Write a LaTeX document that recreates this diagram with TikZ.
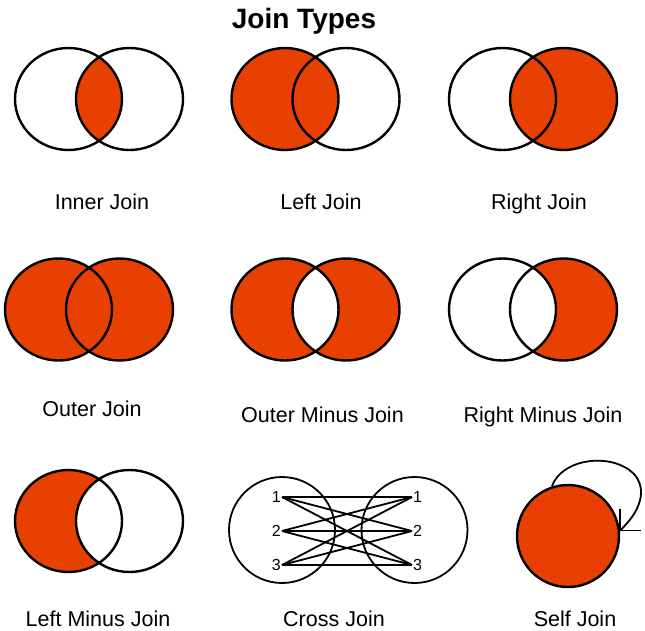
\documentclass[tikz,border=0pt]{standalone}
\usepackage{fontspec}
\setmainfont{Liberation Sans}
\usetikzlibrary{arrows.meta}
\definecolor{joinred}{RGB}{232,64,0}

\begin{document}
\begin{tikzpicture}[
    x=1pt, y=-1pt,
    setline/.style={line width=2.4pt, draw=black},
    setfill/.style={fill=joinred},
    setsize/.style={x radius=53.5, y radius=51},
    caption/.style={anchor=base, font=\fontsize{21.5}{24}\selectfont},
    crossline/.style={line width=1.8pt},
    digit/.style={font=\fontsize{16}{17}\selectfont, inner sep=1pt},
]

%--- Coordinates (y grows downward) ---
\def\dx{30.5}       % half distance between the two set centres
\def\rowI{99}       % centre height, first row
\def\rowII{309.5}   % centre height, second row
\def\rowIII{521}    % centre height, third row
\def\colA{99}       % middle of a pair, left column
\def\colB{315.5}    % middle of a pair, centre column
\def\colC{533}      % middle of a pair, right column
\def\colO{89}       % outer join sits a bit further left

\useasboundingbox (0,0) rectangle (645,630);

\node[anchor=base, font=\bfseries\fontsize{28}{30}\selectfont] (title) at (304,28) {Join Types};

%============================================================
% Inner Join
%============================================================
\begin{scope}
  \clip (\colA-\dx,\rowI) ellipse [setsize];
  \fill[setfill] (\colA+\dx,\rowI) ellipse [setsize];
\end{scope}
\draw[setline] (\colA-\dx,\rowI) ellipse [setsize]
               (\colA+\dx,\rowI) ellipse [setsize];
\node[caption] (innerlbl) at (102,209) {Inner Join};

%============================================================
% Left Join
%============================================================
\fill[setfill] (\colB-\dx,\rowI) ellipse [setsize];
\draw[setline] (\colB-\dx,\rowI) ellipse [setsize]
               (\colB+\dx,\rowI) ellipse [setsize];
\node[caption] (leftlbl) at (321,209) {Left Join};

%============================================================
% Right Join
%============================================================
\fill[setfill] (\colC+\dx,\rowI) ellipse [setsize];
\draw[setline] (\colC-\dx,\rowI) ellipse [setsize]
               (\colC+\dx,\rowI) ellipse [setsize];
\node[caption] (rightlbl) at (539,209) {Right Join};

%============================================================
% Outer Join
%============================================================
\fill[setfill] (\colO-\dx,\rowII) ellipse [setsize]
               (\colO+\dx,\rowII) ellipse [setsize];
\draw[setline] (\colO-\dx,\rowII) ellipse [setsize]
               (\colO+\dx,\rowII) ellipse [setsize];
\node[caption] (outerlbl) at (92,416) {Outer Join};

%============================================================
% Outer Minus Join
%============================================================
\fill[setfill, even odd rule] (\colB-\dx,\rowII) ellipse [setsize]
                              (\colB+\dx,\rowII) ellipse [setsize];
\draw[setline] (\colB-\dx,\rowII) ellipse [setsize]
               (\colB+\dx,\rowII) ellipse [setsize];
\node[caption] (outerminuslbl) at (322.5,422) {Outer Minus Join};

%============================================================
% Right Minus Join
%============================================================
\begin{scope}
  \clip (\colC+\dx,\rowII) ellipse [setsize];
  \fill[setfill, even odd rule] (\colC-\dx,\rowII) ellipse [setsize]
                                (\colC+\dx,\rowII) ellipse [setsize];
\end{scope}
\draw[setline] (\colC-\dx,\rowII) ellipse [setsize]
               (\colC+\dx,\rowII) ellipse [setsize];
\node[caption] (rightminuslbl) at (543,422) {Right Minus Join};

%============================================================
% Left Minus Join
%============================================================
\begin{scope}
  \clip (\colA-\dx,\rowIII) ellipse [setsize];
  \fill[setfill, even odd rule] (\colA-\dx,\rowIII) ellipse [setsize]
                                (\colA+\dx,\rowIII) ellipse [setsize];
\end{scope}
\draw[setline] (\colA-\dx,\rowIII) ellipse [setsize]
               (\colA+\dx,\rowIII) ellipse [setsize];
\node[caption] (leftminuslbl) at (98,626) {Left Minus Join};

%============================================================
% Cross Join
%============================================================
\node[draw, circle, line width=1.8pt, minimum size=106, inner sep=0] (crossL) at (282,530) {};
\node[draw, circle, line width=1.8pt, minimum size=106, inner sep=0] (crossR) at (414.5,530) {};
\foreach \i/\y in {1/497, 2/531, 3/565} {
  \coordinate (cl\i) at (282,\y);
  \coordinate (cr\i) at (412,\y);
  \node[digit, anchor=east] (cln\i) at (cl\i) {\i};
  \node[digit, anchor=west] (crn\i) at (cr\i) {\i};
}
\foreach \i in {1,2,3}
  \foreach \j in {1,2,3}
    \draw[crossline] (cl\i) -- (cr\j);
\node[caption] (crosslbl) at (334,626) {Cross Join};

%============================================================
% Self Join
%============================================================
\node[circle, setfill, setline, minimum size=102, inner sep=0] (self) at (568,536) {};
\coordinate (tip) at (self.6);
\draw[line width=1.8pt]
    (self.108) .. controls (562,458) and (612,452) .. (634,474)
               .. controls (648,490) and (640,512) .. (tip);
% open arrow head: one barb up, one barb right
\draw[line width=1.8pt] ([yshift=22pt]tip) -- (tip) -- ([xshift=21pt]tip);
\node[caption] (selflbl) at (575,626) {Self Join};

\end{tikzpicture}
\end{document}
